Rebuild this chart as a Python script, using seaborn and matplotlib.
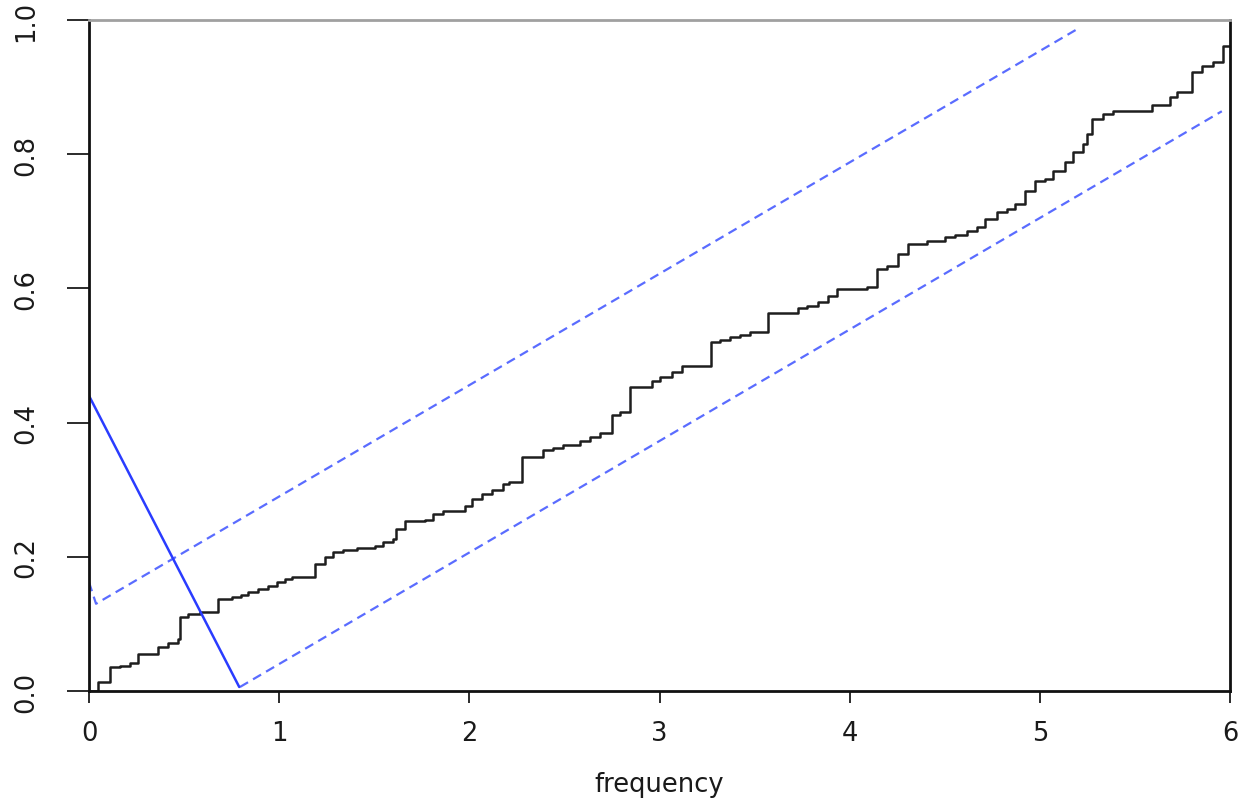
import matplotlib
matplotlib.use("Agg")
import matplotlib.pyplot as plt
import seaborn as sns
import pandas as pd

# cumulative periodogram step curve (jump frequency, new cumulative value)
step_freq = [0.0, 0.02, 0.047, 0.11, 0.163, 0.216, 0.258, 0.363, 0.415, 0.468, 0.479,
             0.521, 0.584, 0.678, 0.752, 0.8, 0.836, 0.889, 0.94, 0.989, 1.031, 1.067, 1.188,
             1.241, 1.283, 1.336, 1.409, 1.504, 1.546, 1.599, 1.614, 1.662, 1.767,
             1.809, 1.861, 1.977, 2.014, 2.067, 2.119, 2.177, 2.21, 2.277, 2.387,
             2.44, 2.493, 2.582, 2.634, 2.687, 2.75, 2.792, 2.845, 2.96, 3.003,
             3.066, 3.118, 3.271, 3.318, 3.371, 3.423, 3.476, 3.57, 3.728, 3.776,
             3.833, 3.886, 3.933, 4.091, 4.144, 4.196, 4.254, 4.307, 4.407, 4.501,
             4.554, 4.617, 4.669, 4.712, 4.775, 4.827, 4.869, 4.922, 4.974, 5.027,
             5.069, 5.132, 5.174, 5.227, 5.25, 5.274, 5.332, 5.385, 5.59, 5.684,
             5.721, 5.8, 5.853, 5.91, 5.963, 6.0]
step_cum = [0.0, 0.0, 0.013, 0.036, 0.038, 0.042, 0.055, 0.066, 0.071, 0.078, 0.11,
            0.115, 0.118, 0.137, 0.14, 0.143, 0.147, 0.152, 0.157, 0.162, 0.167, 0.17, 0.189,
            0.2, 0.207, 0.21, 0.213, 0.216, 0.222, 0.226, 0.241, 0.253, 0.255,
            0.264, 0.268, 0.276, 0.286, 0.293, 0.3, 0.308, 0.311, 0.349, 0.359,
            0.362, 0.367, 0.373, 0.378, 0.385, 0.411, 0.416, 0.453, 0.462, 0.468,
            0.475, 0.484, 0.52, 0.523, 0.528, 0.531, 0.535, 0.563, 0.571, 0.574,
            0.58, 0.589, 0.599, 0.602, 0.629, 0.633, 0.651, 0.666, 0.671, 0.677,
            0.68, 0.686, 0.691, 0.703, 0.714, 0.718, 0.726, 0.745, 0.76, 0.763,
            0.775, 0.788, 0.803, 0.815, 0.83, 0.852, 0.86, 0.864, 0.873, 0.885,
            0.893, 0.922, 0.931, 0.937, 0.961, 0.961]

# confidence band lines (dashed) and the solid blue line
upper_x = [0.0, 0.037, 5.2]
upper_y = [0.162, 0.13, 0.987]
lower_x = [0.794, 5.957]
lower_y = [0.006, 0.864]
solid_x = [0.0, 0.79]
solid_y = [0.44, 0.006]

x_ticks = [0, 1, 2, 3, 4, 5, 6]
y_ticks = [0.0, 0.2, 0.4, 0.6, 0.8, 1.0]
y_tick_labels = ["0.0", "0.2", "0.4", "0.6", "0.8", "1.0"]
x_label = "frequency"

sns.set_style("white")
plt.rcParams["font.family"] = ["DejaVu Sans"]
plt.rcParams["text.color"] = "#1a1a1a"
plt.rcParams["xtick.color"] = "#1a1a1a"
plt.rcParams["ytick.color"] = "#1a1a1a"
plt.rcParams["axes.labelcolor"] = "#1a1a1a"

fig = plt.figure(figsize=(12.44, 8.03), dpi=100)
ax = fig.add_axes([89 / 1244, 1 - 692 / 803, (1230 - 89) / 1244, (692 - 21) / 803])

df = pd.DataFrame({"f": step_freq, "c": step_cum})
sns.lineplot(data=df, x="f", y="c", drawstyle="steps-post", estimator=None,
             sort=False, color="#1e1e1e", linewidth=1.8, ax=ax)

dash = (0, (4.2, 2.6))
sns.lineplot(x=upper_x, y=upper_y, sort=False, estimator=None, color="#5a6cff",
             linewidth=1.6, linestyle=dash, ax=ax)
sns.lineplot(x=lower_x, y=lower_y, sort=False, estimator=None, color="#5a6cff",
             linewidth=1.6, linestyle=dash, ax=ax)
sns.lineplot(x=solid_x, y=solid_y, sort=False, estimator=None, color="#2a3cff",
             linewidth=1.8, ax=ax)

ax.set_xlim(0, 6)
ax.set_ylim(0, 1)
ax.set_xticks(x_ticks)
ax.set_xticklabels([str(t) for t in x_ticks])
ax.set_yticks(y_ticks)
ax.set_yticklabels(y_tick_labels, rotation=90, va="center")
ax.set_xlabel(x_label, fontsize=18.5, labelpad=18)
ax.set_ylabel("")

ax.tick_params(axis="x", direction="out", length=8.6, width=1.3,
               labelsize=18.5, pad=12, bottom=True)
ax.tick_params(axis="y", direction="out", length=15.8, width=1.3,
               labelsize=18.5, pad=20, left=True)
for i, t in enumerate(ax.yaxis.get_major_ticks()):
    if i >= 4:
        t.tick1line.set_color("#a8a8a8")

for side in ["left", "right", "bottom"]:
    ax.spines[side].set_color("#111111")
    ax.spines[side].set_linewidth(2.0)
ax.spines["top"].set_color("#a0a0a0")
ax.spines["top"].set_linewidth(2.0)

fig.savefig("out.png", dpi=100)
